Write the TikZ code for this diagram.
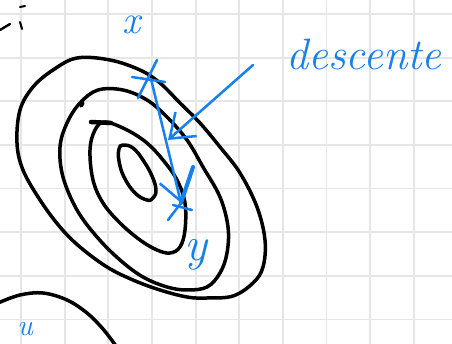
\documentclass[tikz,border=0pt]{standalone}
\usepackage{tikz}
\usetikzlibrary{arrows.meta}
\definecolor{penblue}{RGB}{22,128,238}
\definecolor{gridgray}{RGB}{230,230,230}

\begin{document}
\begin{tikzpicture}[x=1pt, y=-1pt,
    gridline/.style={draw=gridgray, line width=1.8pt},
    contour/.style={draw=black, line width=3.5pt, line cap=round, line join=round},
    pen/.style={draw=penblue, line width=2.5pt, line cap=round, line join=round},
    arrow/.style={pen, -{Straight Barb[length=22pt, width=32pt]}},
    hand/.style={text=penblue, inner sep=0pt, font=\fontsize{#1}{#1}\selectfont\itshape},
]
    \useasboundingbox (0,0) rectangle (452,344);
    \clip (0,0) rectangle (452,344);
    \fill[white] (0,0) rectangle (452,344);

    % Squared paper
    \foreach \i in {0,...,9}
        \draw[gridline] ({21+43.65*\i},0) -- ({21+43.65*\i},344);
    \foreach \j in {0,...,7}
        \draw[gridline] (0,{14+43.65*\j}) -- (452,{14+43.65*\j});

    % Level curves
    \draw[contour] plot[smooth cycle, tension=0.6] coordinates {
        (77,58) (110,60) (140,70) (160,83) (180,103) (200,123) (220,147) (240,173)
        (257,207) (265,240) (263,267) (253,283) (233,296) (207,298) (187,297)
        (160,290) (133,280) (107,267) (80,247) (60,227) (40,200) (23,170)
        (17,143) (20,110) (33,87) (53,70)};
    \draw[contour] plot[smooth cycle, tension=0.6] coordinates {
        (98,90) (123,90) (147,100) (167,117) (187,140) (203,167) (220,197)
        (228,227) (227,253) (220,273) (207,287) (187,290) (167,287) (143,277)
        (120,260) (97,237) (77,210) (63,177) (60,147) (67,123) (80,103)};
    \draw[contour] (83,103) -- (81,106);
    \draw[contour] plot[smooth cycle, tension=0.6] coordinates {
        (105,122) (127,130) (147,143) (163,160) (177,180) (185,203) (185,230)
        (180,247) (170,253) (157,250) (140,240) (120,223) (103,203) (93,180)
        (90,150) (95,130)};
    \draw[contour, line width=4.5pt] (91,122) -- (111,123);
    \draw[contour] plot[smooth cycle, tension=0.7] coordinates {
        (123,145) (133,148) (143,160) (152,176) (156,190) (153,198) (147,200)
        (135,193) (124,177) (119,161) (119,149)};
    \draw[contour] plot[smooth, tension=0.6] coordinates {
        (-2,303) (20,295) (43,293) (67,300) (87,313) (103,329) (116,346)};

    % Stray marks
    \draw[contour, line width=2.4pt] (0,30) -- (10,24);
    \draw[contour, line width=2pt] (20,7) -- (25,6);
    \draw[contour, line width=2pt] (20,22) -- (22,29);

    % Points and descent step
    \coordinate (x) at (151,79);
    \coordinate (y) at (181,203);
    \draw[pen] (132,77) -- (165,82);
    \draw[pen] (157,60) -- (138,98);
    \draw[pen] (168,220) -- (y);
    \draw[pen] (173,205) -- (192,210);
    \draw[arrow] (x) -- (y);
    \draw[pen, line width=4pt] (193,167) -- (y);

    % Labels
    \node[hand=40] (xlabel) at (131,25) {x};
    \node[hand=48] (ylabel) at (196,255) {y};
    \node[hand=30] (ulabel) at (25,329) {u};
    \node[hand=44] (desc) at (364,54) {descente};
    \coordinate (dtip) at (168,140);
    \draw[arrow] (253,65) -- (dtip);
\end{tikzpicture}
\end{document}
